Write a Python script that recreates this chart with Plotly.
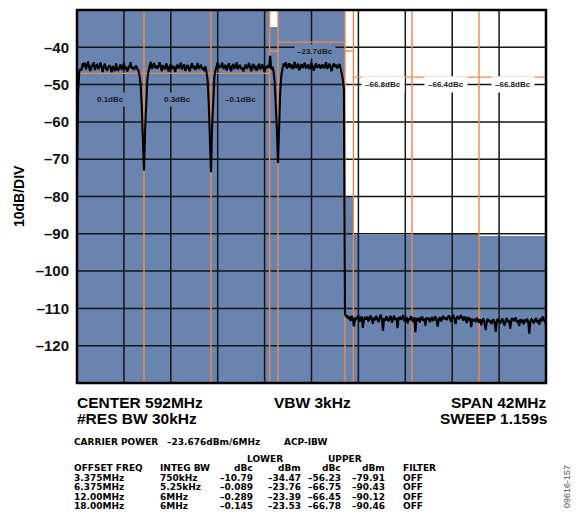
import numpy as np
import plotly.graph_objects as go

# ---------------- data ----------------
CENTER = 592.0
F_START, F_STOP = 571.0, 613.0
Y_TOP, Y_BOTTOM = -30.0, -130.0

y_ticks = [-120, -110, -100, -90, -80, -70, -60, -50, -40]
y_tick_text = ["\u2013120", "\u2013110", "\u2013100", "\u201390", "\u201380",
               "\u201370", "\u201360", "\u201350", "\u201340"]
x_divisions = [575.2, 579.4, 583.6, 587.8, 592.0, 596.2, 600.4, 604.6, 608.8]

# ACP table
offset_freq = [3.375, 6.375, 12.0, 18.0]          # MHz
integ_bw = [0.75, 5.25, 6.0, 6.0]                 # MHz
offset_label = ["3.375MHz", "6.375MHz", "12.00MHz", "18.00MHz"]
integ_label = ["750kHz", "5.25kHz", "6MHz", "6MHz"]
lower_dbc = ["\u201310.79", "\u20130.089", "\u20130.289", "\u20130.145"]
lower_dbm = [-34.47, -23.76, -23.39, -23.53]
upper_dbc = ["\u201356.23", "\u201366.75", "\u201366.45", "\u201366.78"]
upper_dbm = [-79.91, -90.43, -90.12, -90.46]
filter_state = ["OFF", "OFF", "OFF", "OFF"]
carrier_dbm = -23.676
carrier_bw = 6.0

# orange display lines per band (dBm)
lower_line = [-41.0, -47.0, -47.0, -47.0]
upper_line = [-41.0, -48.0, -48.0, -48.0]
carrier_line = -38.6

# band labels on screen
lower_band_text = [None, "\u20130.1dBc", "0.3dBc", "0.1dBc"]
upper_band_text = [None, "\u201366.8dBc", "\u201366.4dBc", "\u201366.8dBc"]
carrier_text = "\u201323.7dBc"

# spectrum trace, 0.1 MHz steps from 571.0 to 613.0 (dBm)
trace_dbm = [
    -74, -52, -46.5, -45.8, -46.2, -44.3, -45.3, -44.1, -45.9, -45.1,
    -43.8, -45.6, -46.4, -44.8, -45.2, -44.0, -46.1, -45.0, -44.7, -45.8,
    -45.2, -44.1, -45.9, -46.6, -45.1, -44.4, -45.7, -46.3, -45.3, -44.8,
    -45.5, -46.7, -45.0, -45.7, -46.4, -44.3, -45.9, -46.1, -45.2, -44.6,
    -46.0, -45.4, -44.2, -45.9, -45.2, -46.5, -45.6, -45.1, -44.0, -45.7,
    -45.3, -46.0, -45.4, -44.9, -45.8, -46.2, -47.5, -50, -56, -63,
    -73, -62, -54, -48.5, -46.5, -44.6, -43.9, -45.8, -45.0, -44.2,
    -45.6, -44.9, -45.7, -45.1, -44.0, -45.5, -46.4, -44.8, -45.3, -45.9,
    -44.3, -45.4, -46.5, -45.2, -44.6, -45.8, -45.0, -45.6, -46.6, -45.1,
    -44.8, -45.7, -45.2, -44.1, -45.9, -45.3, -44.6, -46.3, -45.4, -44.7,
    -45.5, -46.4, -45.1, -44.3, -45.6, -45.0, -46.1, -45.3, -44.2, -45.8,
    -45.2, -44.7, -45.9, -45.4, -46.3, -45.1, -46.8, -49, -55, -62,
    -73.5, -61, -53, -48, -46.2, -45.0, -44.0, -45.6, -44.9, -45.3,
    -44.1, -45.8, -45.1, -44.7, -46.2, -45.2, -44.3, -45.5, -46.4, -45.0,
    -44.5, -45.6, -45.3, -44.0, -45.9, -45.1, -44.7, -45.8, -45.4, -46.5,
    -45.2, -44.6, -45.7, -45.3, -44.2, -45.8, -46.4, -45.0, -44.5, -45.6,
    -45.3, -46.3, -45.1, -44.4, -45.9, -45.4, -44.6, -45.7, -46.5, -45.1,
    -45.6, -44.8, -45.5, -42.3, -45.9, -45.2, -46.5, -49, -55, -62,
    -71, -60, -52, -47.5, -45.8, -44.3, -45.2, -44.0, -45.7, -45.0,
    -44.3, -45.5, -44.6, -45.8, -45.2, -43.9, -45.6, -45.1, -44.4, -46.2,
    -45.3, -44.5, -45.6, -45.0, -44.1, -45.7, -45.2, -44.6, -45.8, -45.4,
    -44.2, -45.3, -46.3, -45.1, -44.3, -45.5, -45.0, -44.6, -45.7, -45.2,
    -44.6, -45.6, -45.2, -44.0, -45.8, -45.1, -44.4, -45.4, -46.4, -45.0,
    -44.3, -45.3, -44.6, -45.7, -45.2, -44.5, -45.5, -46.8, -48.5, -51,
    -111.4, -112.3, -111.9, -112.8, -112.2, -113.4, -112.0, -112.7, -114.8, -112.5,
    -113.1, -112.4, -111.8, -113.6, -112.6, -112.1, -115.2, -112.9, -112.3, -113.0,
    -112.2, -113.5, -112.7, -111.9, -112.8, -114.1, -112.4, -113.2, -112.0, -112.9,
    -113.7, -112.5, -111.7, -112.9, -116.0, -112.6, -113.3, -112.1, -112.8, -113.5,
    -112.4, -112.0, -113.8, -112.7, -111.9, -113.1, -112.5, -115.3, -112.8, -112.2,
    -113.0, -112.6, -111.8, -113.4, -112.9, -112.3, -114.0, -112.7, -113.2, -112.1,
    -112.8, -113.6, -112.4, -116.4, -112.9, -113.1, -112.5, -113.8, -112.6, -112.2,
    -113.3, -112.7, -114.6, -112.4, -113.0, -112.5, -113.7, -112.9, -112.3, -113.4,
    -112.6, -112.1, -113.2, -114.9, -112.8, -112.4, -113.5, -112.7, -112.0, -112.9,
    -112.4, -113.1, -112.2, -111.9, -112.7, -113.6, -112.3, -112.0, -112.8, -114.2,
    -112.5, -112.1, -112.9, -112.4, -111.8, -112.6, -113.3, -112.2, -112.7, -113.9,
    -112.3, -113.0, -112.6, -115.0, -112.8, -113.4, -112.9, -113.7, -112.5, -113.2,
    -113.8, -112.9, -114.5, -113.3, -112.7, -113.9, -115.8, -113.4, -112.8, -113.6,
    -113.1, -114.2, -113.5, -112.9, -113.8, -116.2, -113.3, -112.8, -113.6, -114.0,
    -113.2, -112.7, -113.9, -114.6, -113.1, -112.6, -113.7, -113.3, -115.4, -113.0,
    -112.6, -113.4, -113.0, -112.4, -113.8, -113.2, -114.7, -112.9, -113.5, -113.1,
    -114.3, -113.0, -113.7, -112.8, -113.4, -116.8, -113.6, -112.9, -113.2, -114.0,
    -113.3, -112.6, -113.8, -113.1, -114.4, -112.7, -113.5, -112.2, -113.0, -113.6,
    -113.2,
]

# ---------------- styling ----------------
BLUE = "#6A84B0"
ORANGE = "#EF8A4E"
GRID = "#151515"
FONT = "Liberation Sans, Arial, sans-serif"
SMALL_FONT = "DejaVu Sans, Liberation Sans, sans-serif"

W, H = 577, 514
ML, MR, MT, MB = 77, 31, 10, 131
PW, PH = W - ML - MR, H - MT - MB

trace_freq = np.linspace(F_START, F_STOP, len(trace_dbm))

# band geometry from the table
band_center = [CENTER - o for o in offset_freq] + [CENTER] + [CENTER + o for o in offset_freq]
band_width = list(integ_bw) + [carrier_bw] + list(integ_bw)
band_power = list(lower_dbm) + [carrier_dbm] + list(upper_dbm)
band_line = list(lower_line) + [carrier_line] + list(upper_line)

fig = go.Figure()

# integrated band power bars
fig.add_trace(go.Bar(
    x=band_center, y=[p - Y_BOTTOM for p in band_power], base=Y_BOTTOM,
    width=band_width, marker=dict(color=BLUE, line=dict(width=0)),
    hoverinfo="skip"))

# graticule
gx, gy = [], []
for v in y_ticks:
    gx += [F_START, F_STOP, None]
    gy += [v, v, None]
for d in x_divisions:
    gx += [d, d, None]
    gy += [Y_BOTTOM, Y_TOP, None]
fig.add_trace(go.Scatter(x=gx, y=gy, mode="lines",
                         line=dict(color=GRID, width=1.5), hoverinfo="skip"))

# orange band edges and display lines
edges = sorted(set([c - w / 2 for c, w in zip(band_center, band_width)] +
                   [c + w / 2 for c, w in zip(band_center, band_width)]))
edges = [e for e in edges if F_START < e < F_STOP]
ox, oy = [], []
for e in edges:
    ox += [e, e, None]
    oy += [Y_BOTTOM, Y_TOP, None]
for c, w, lv in zip(band_center, band_width, band_line):
    ox += [c - w / 2, c + w / 2, None]
    oy += [lv, lv, None]
fig.add_trace(go.Scatter(x=ox, y=oy, mode="lines",
                         line=dict(color=ORANGE, width=1.4), hoverinfo="skip"))

# spectrum
fig.add_trace(go.Scatter(x=trace_freq, y=trace_dbm, mode="lines",
                         line=dict(color="black", width=2.1), hoverinfo="skip"))

fig.update_layout(
    width=W, height=H, margin=dict(l=ML, r=MR, t=MT, b=MB),
    paper_bgcolor="white", plot_bgcolor="white", showlegend=False,
    font=dict(family=FONT, color="black"),
    xaxis=dict(range=[F_START, F_STOP], showgrid=False, zeroline=False,
               showticklabels=False, ticks=""),
    yaxis=dict(range=[Y_BOTTOM, Y_TOP], showgrid=False, zeroline=False,
               tickvals=y_ticks, ticktext=y_tick_text, ticks="",
               ticklabelstandoff=7,
               tickfont=dict(family=FONT, size=15, weight="bold", color="#111")),
    bargap=0,
)

# plot frame
fig.add_shape(type="rect", xref="paper", yref="paper", x0=0, x1=1, y0=0, y1=1,
              line=dict(color="black", width=2.5), layer="above")


def px_x(p):
    return (p - ML) / PW


def px_y(p):
    return (MT + PH - p) / PH


def note(text, x, y, size, anchor="left", bold=True, color="black", angle=0,
         family=FONT):
    fig.add_annotation(text=text, x=px_x(x), y=px_y(y), xref="paper", yref="paper",
                       xanchor=anchor, yanchor="middle", showarrow=False,
                       textangle=angle, borderpad=0,
                       font=dict(family=family, size=size, color=color,
                                 weight="bold" if bold else "normal"))


# band labels
lower_centers = [CENTER - o for o in offset_freq]
upper_centers = [CENTER + o for o in offset_freq]
for c, t in zip(lower_centers, lower_band_text):
    if t:
        fig.add_annotation(text=t, x=c, y=-53.9, showarrow=False, bgcolor=BLUE,
                           borderpad=2, font=dict(family=FONT, size=8, weight="bold",
                                                  color="#1a1a1a"))
for c, t in zip(upper_centers, upper_band_text):
    if t:
        fig.add_annotation(text=t, x=c, y=-50, showarrow=False, bgcolor="white",
                           borderpad=3, font=dict(family=FONT, size=8, weight="bold",
                                                  color="#1a1a1a"))
fig.add_annotation(text=carrier_text, x=CENTER + 0.3, y=-41.2, showarrow=False,
                   bgcolor=BLUE, borderpad=2,
                   font=dict(family=FONT, size=8, weight="bold", color="#1a1a1a"))

# axis title
note("10dB/DIV", 19, 196, 14, anchor="center", angle=-90)

# instrument settings
BS = 15.5
note("CENTER 592MHz", 76, 402, BS)
note("#RES BW 30kHz", 76, 418, BS)
note("VBW 3kHz", 273, 402, BS)
note("SPAN 42MHz", 548, 402, BS, anchor="right")
note("SWEEP 1.159s", 548, 418, BS, anchor="right")

# carrier power line
TS = 9
SF = SMALL_FONT
note("CARRIER POWER", 73, 442, TS, family=SF)
note("\u2013%.3fdBm/6MHz" % abs(carrier_dbm), 166, 442, TS, family=SF)
note("ACP-IBW", 283, 442, TS, family=SF)

# table
note("LOWER", 265, 459, TS, anchor="center", family=SF)
note("UPPER", 345, 459, TS, anchor="center", family=SF)
hy = 468
note("OFFSET FREQ", 73, hy, TS, family=SF)
note("INTEG BW", 159, hy, TS, family=SF)
note("dBc", 254, hy, TS, anchor="right", family=SF)
note("dBm", 302, hy, TS, anchor="right", family=SF)
note("dBc", 342, hy, TS, anchor="right", family=SF)
note("dBm", 386, hy, TS, anchor="right", family=SF)
note("FILTER", 402, hy, TS, family=SF)
row_y = [477.5, 487, 496.5, 506]
for i, ry in enumerate(row_y):
    note(offset_label[i], 73, ry, TS, family=SF)
    note(integ_label[i], 159, ry, TS, family=SF)
    note(lower_dbc[i], 254, ry, TS, anchor="right", family=SF)
    note("\u2013%.2f" % abs(lower_dbm[i]), 302, ry, TS, anchor="right", family=SF)
    note(upper_dbc[i], 342, ry, TS, anchor="right", family=SF)
    note("\u2013%.2f" % abs(upper_dbm[i]), 386, ry, TS, anchor="right", family=SF)
    note(filter_state[i], 402, ry, TS, family=SF)

note("09616-157", 567, 487, 9, anchor="center", bold=False, color="#555", angle=-90)

fig.write_html("out.html", config={"displayModeBar": False},
               post_script="document.body.style.margin='0';document.body.style.overflow='hidden';")
